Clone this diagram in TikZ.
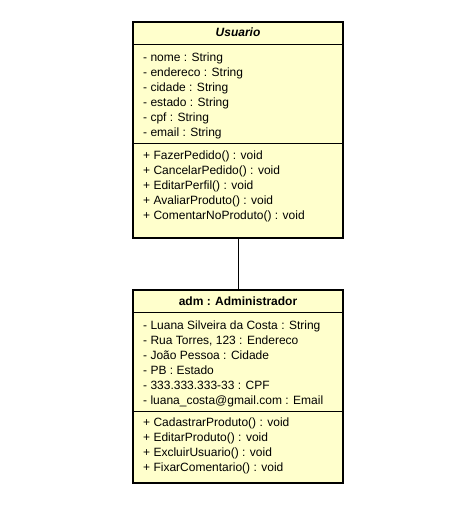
\documentclass[tikz,border=0pt]{standalone}
\usepackage{fontspec}
\setmainfont{Liberation Sans}
\definecolor{classfill}{HTML}{FFFFCC}

\begin{document}
\begin{tikzpicture}[x=1pt, y=-1pt,
        classbox/.style={draw=black, line width=2pt, fill=classfill, minimum width=210pt, inner sep=0pt},
        member/.style={anchor=base west, inner sep=0pt, font=\fontsize{12}{14}\selectfont},
        classname/.style={anchor=base, inner sep=0pt, font=\fontsize{12}{14}\selectfont\bfseries}]
                \useasboundingbox (0, 0) rectangle (473, 527);
                % classe Usuario
                \node [classbox, minimum height=216pt] (usuario) at (238, 130) {};
                \node [classname, font=\fontsize{12}{14}\selectfont\bfseries\itshape] (usuarioname) at (238, 37) {Usuario};
                \draw [line width=1pt] (usuario.west |- 0, 45) -- (usuario.east |- 0, 45);
                \draw [line width=1pt] (usuario.west |- 0, 143) -- (usuario.east |- 0, 143);
                \node [member] (nome) at (143, 61) {- nome : String};
                \node [member] (endereco) at (143, 76) {- endereco : String};
                \node [member] (cidade) at (143, 91) {- cidade : String};
                \node [member] (estado) at (143, 106) {- estado : String};
                \node [member] (cpf) at (143, 121) {- cpf : String};
                \node [member] (email) at (143, 136) {- email : String};
                \node [member] (fazerpedido) at (143, 159) {+ FazerPedido() : void};
                \node [member] (cancelarpedido) at (143, 174) {+ CancelarPedido() : void};
                \node [member] (editarperfil) at (143, 189) {+ EditarPerfil() : void};
                \node [member] (avaliarproduto) at (143, 204) {+ AvaliarProduto() : void};
                \node [member] (comentar) at (143, 219) {+ ComentarNoProduto() : void};
                % objeto adm
                \node [classbox, minimum height=193pt] (adm) at (238, 386.5) {};
                \node [classname] (admname) at (238, 305) {adm : Administrador};
                \draw [line width=1pt] (adm.west |- 0, 312) -- (adm.east |- 0, 312);
                \draw [line width=1pt] (adm.west |- 0, 411) -- (adm.east |- 0, 411);
                \node [member] (admnome) at (143, 329) {- Luana Silveira da Costa : String};
                \node [member] (admendereco) at (143, 344) {- Rua Torres, 123 : Endereco};
                \node [member] (admcidade) at (143, 359) {- João Pessoa : Cidade};
                \node [member] (admestado) at (143, 374) {- PB : Estado};
                \node [member] (admcpf) at (143, 389) {- 333.333.333-33 : CPF};
                \node [member] (admemail) at (143, 404) {- luana\_costa@gmail.com : Email};
                \node [member] (cadastrar) at (143, 426) {+ CadastrarProduto() : void};
                \node [member] (editarproduto) at (143, 441) {+ EditarProduto() : void};
                \node [member] (excluir) at (143, 456) {+ ExcluirUsuario() : void};
                \node [member] (fixar) at (143, 471) {+ FixarComentario() : void};
                % ligacao
                \draw [line width=1pt] (usuario.south) -- (adm.north);
\end{tikzpicture}
\end{document}
